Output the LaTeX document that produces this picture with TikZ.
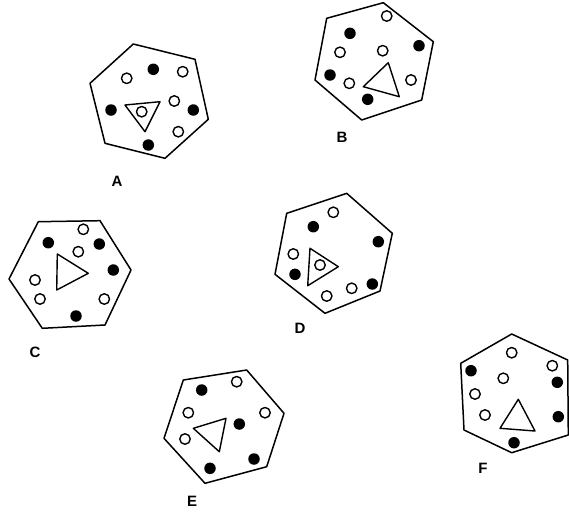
\documentclass[tikz,border=0pt]{standalone}
\usepackage{fontspec}
\setmainfont{Liberation Sans}
\begin{document}
\begin{tikzpicture}[x=1pt,y=-1pt,line join=round,
  hexa/.style={draw=black,line width=1.5pt},
  tri/.style={draw=black,line width=1.4pt},
  op/.style={circle,draw=black,line width=1.4pt,fill=white,minimum size=10.5pt,inner sep=0pt},
  fl/.style={circle,fill=black,minimum size=11.5pt,inner sep=0pt},
  lab/.style={font=\bfseries\fontsize{15}{15}\selectfont,inner sep=0pt}]
\useasboundingbox (0,0) rectangle (569,515);
% A
\draw[hexa] (133.3,44) -- (195,59.3) -- (208.3,119.3) -- (165,158.3) -- (105,143.3) -- (90,83.3) -- cycle;
\draw[tri] (125,105) -- (160,101.7) -- (145,131.7) -- cycle;
\node[fl] (a1) at (153.3,69.3) {};
\node[op] (a2) at (126.7,78.3) {};
\node[op] (a3) at (182.7,71.7) {};
\node[op] (a4) at (174.3,101) {};
\node[fl] (a5) at (111,110) {};
\node[fl] (a6) at (193.3,110) {};
\node[op] (a7) at (141.7,111.7) {};
\node[op] (a8) at (178.3,131.7) {};
\node[fl] (a9) at (148.3,145) {};
\node[lab] (la) at (117,181) {A};
% B
\draw[hexa] (326.7,18.3) -- (383.3,2.7) -- (433.3,41.7) -- (421.7,100) -- (361.7,120) -- (315,80) -- cycle;
\draw[tri] (388.3,62.7) -- (363.3,86.7) -- (399.3,96.7) -- cycle;
\node[op] (b1) at (386.7,16) {};
\node[fl] (b2) at (350,33.3) {};
\node[fl] (b3) at (419,45.7) {};
\node[op] (b4) at (340,52.3) {};
\node[op] (b5) at (382.7,50.7) {};
\node[fl] (b6) at (330,75) {};
\node[op] (b7) at (349.3,83.3) {};
\node[op] (b8) at (411,80) {};
\node[fl] (b9) at (367.7,99.3) {};
\node[lab] (lb) at (342,137) {B};
% C
\draw[hexa] (38.3,221.7) -- (100,220.7) -- (131,270) -- (105,325) -- (42.3,328.3) -- (9,279) -- cycle;
\draw[tri] (57.3,254) -- (88.3,273.3) -- (56.7,290) -- cycle;
\node[op] (c1) at (83.3,229.3) {};
\node[fl] (c2) at (48.3,242.7) {};
\node[fl] (c3) at (99.3,244) {};
\node[op] (c4) at (78.3,251.7) {};
\node[fl] (c5) at (113.3,270) {};
\node[op] (c6) at (35,280) {};
\node[op] (c7) at (40,299) {};
\node[op] (c8) at (104.3,299) {};
\node[fl] (c9) at (76,316) {};
\node[lab] (lc) at (35,352) {C};
% D
\draw[hexa] (286.7,213.3) -- (346.7,193.3) -- (392.3,233.3) -- (380,291) -- (325,313.3) -- (275,274.3) -- cycle;
\draw[tri] (310,248.3) -- (338.3,266.7) -- (307.7,285.7) -- cycle;
\node[op] (d1) at (333.3,212.3) {};
\node[fl] (d2) at (313.3,226.7) {};
\node[fl] (d3) at (378.3,241.7) {};
\node[op] (d4) at (293.3,254) {};
\node[op] (d5) at (320,265) {};
\node[fl] (d6) at (295,274.3) {};
\node[op] (d7) at (351.7,288.3) {};
\node[fl] (d8) at (372.3,284) {};
\node[op] (d9) at (326.7,296) {};
\node[lab] (ld) at (300,328) {D};
% E
\draw[hexa] (183.3,380) -- (246.7,370) -- (284,413.3) -- (266.7,466.7) -- (205,483.3) -- (164,438.3) -- cycle;
\draw[tri] (193.3,428.3) -- (226,418.3) -- (219.3,451.7) -- cycle;
\node[fl] (e1) at (201.7,390) {};
\node[op] (e2) at (236.7,381.7) {};
\node[op] (e3) at (188.3,412.7) {};
\node[op] (e4) at (265,412.7) {};
\node[fl] (e5) at (239.3,424) {};
\node[op] (e6) at (185,439) {};
\node[fl] (e7) at (254,459) {};
\node[fl] (e8) at (210,468.3) {};
\node[lab] (le) at (192,501) {E};
% F
\draw[hexa] (511.7,334) -- (567.7,360) -- (568.3,435) -- (511.7,452.7) -- (464,430) -- (460.7,363.3) -- cycle;
\draw[tri] (518.3,399.3) -- (500,428.3) -- (535,431) -- cycle;
\node[op] (f1) at (511.7,352.7) {};
\node[fl] (f2) at (471,370.7) {};
\node[op] (f3) at (552.3,365.7) {};
\node[op] (f4) at (503.3,378.3) {};
\node[fl] (f5) at (557.3,382.3) {};
\node[op] (f6) at (475,394) {};
\node[op] (f7) at (485,415) {};
\node[fl] (f8) at (558.3,416.7) {};
\node[fl] (f9) at (514,442.7) {};
\node[lab] (lf) at (483,468) {F};
\end{tikzpicture}
\end{document}
